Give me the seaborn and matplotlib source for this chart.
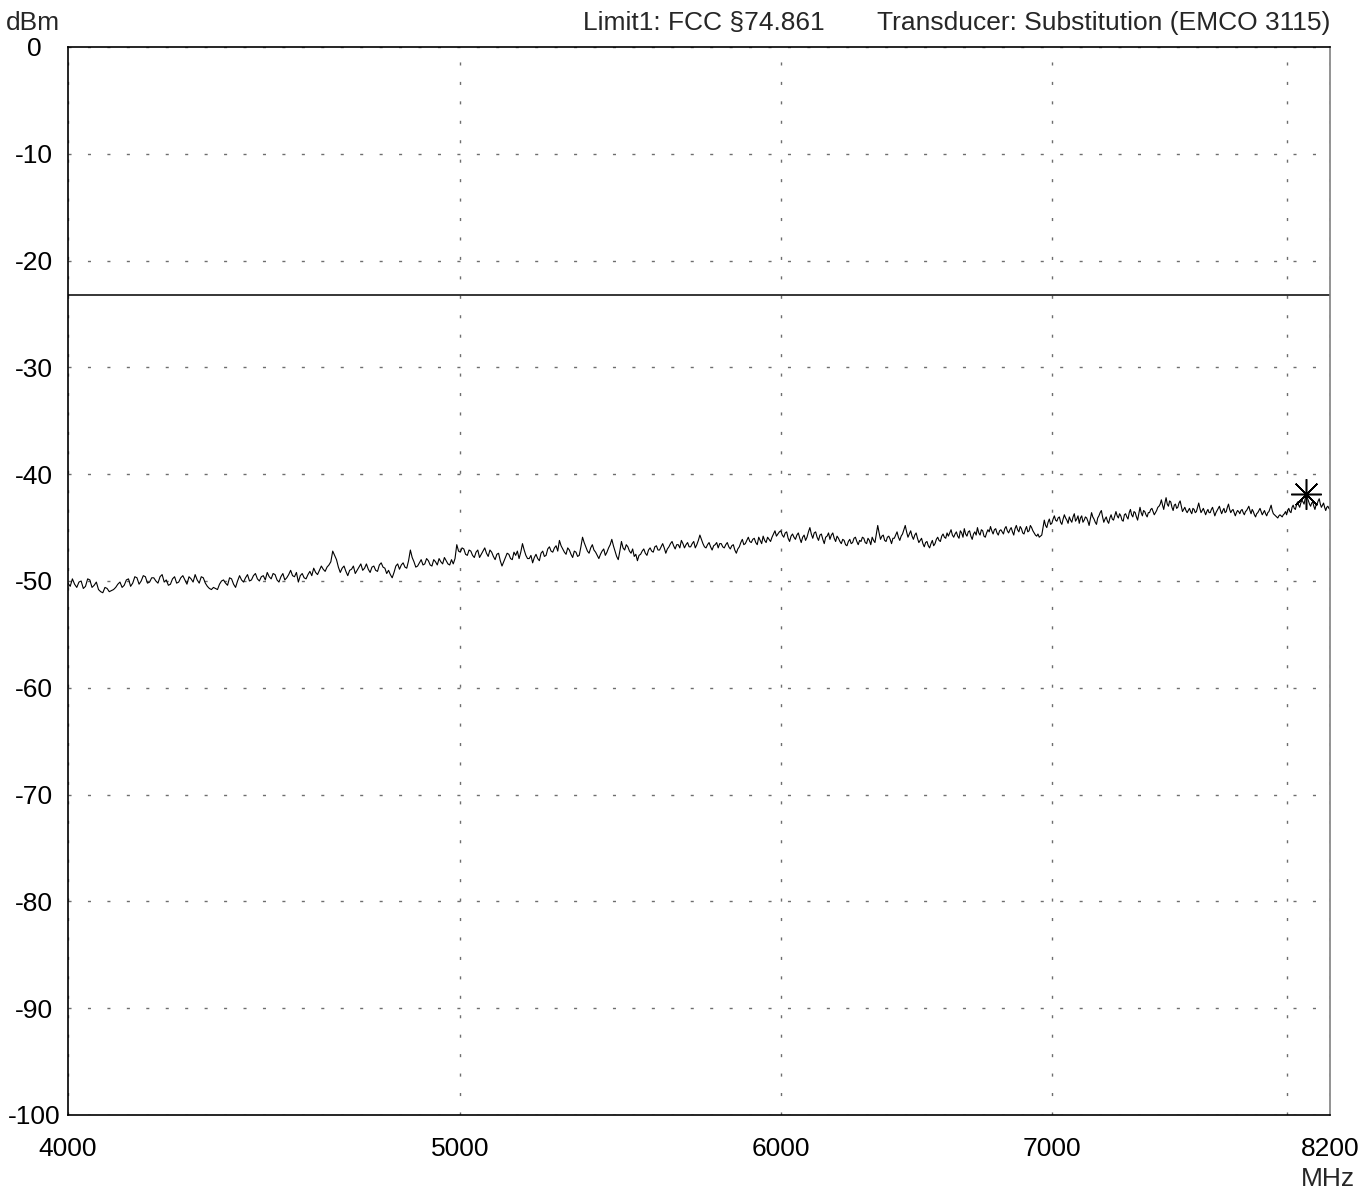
import numpy as np
import pandas as pd
import matplotlib
matplotlib.use("Agg")
import matplotlib.pyplot as plt
from matplotlib.ticker import FixedLocator, FixedFormatter, NullLocator, NullFormatter
import seaborn as sns

# Sweep settings (MHz)
FREQ_START_MHZ = 4000
FREQ_STOP_MHZ = 8200
FREQ_STEP_MHZ = 5

# Measured level per sweep point (dBm), one row per 200 MHz
level_dbm = [
    -50.2, -50.5, -49.8, -50.3, -50.6, -50.1, -50.0, -50.7, -50.5, -49.8, -49.9, -50.6, -50.4, -50.1, -50.8, -51.0, -51.1, -50.6, -50.7, -51.0,
    -50.9, -50.8, -50.6, -50.3, -50.1, -50.6, -50.4, -49.9, -49.8, -50.5, -50.2, -49.6, -49.7, -50.3, -50.0, -49.5, -49.6, -50.2, -50.1, -49.7,
    -49.7, -50.0, -50.2, -49.6, -49.4, -50.1, -49.9, -50.4, -50.3, -49.8, -49.6, -50.2, -50.1, -49.7, -49.5, -49.9, -50.3, -49.6, -49.8, -50.1,
    -49.4, -49.9, -50.2, -49.6, -49.7, -50.2, -50.5, -50.7, -50.8, -50.6, -50.7, -50.8, -50.3, -50.0, -49.9, -50.2, -50.4, -49.7, -49.8, -50.3,
    -50.6, -50.0, -49.5, -49.9, -50.1, -49.7, -49.4, -50.0, -49.9, -49.5, -49.3, -49.8, -50.0, -49.6, -49.5, -49.9, -49.2, -49.6, -49.8, -49.3,
    -49.4, -49.9, -50.1, -49.6, -49.3, -49.9, -49.7, -49.4, -49.0, -49.5, -49.6, -49.2, -50.1, -49.5, -49.3, -49.7, -49.8, -49.4, -49.1, -49.5,
    -48.8, -49.2, -49.4, -49.0, -48.6, -48.9, -49.1, -48.7, -48.5, -48.2, -47.2, -47.6, -48.0, -48.7, -49.2, -48.8, -48.6, -49.1, -49.5, -49.0,
    -48.9, -48.6, -49.3, -49.0, -48.7, -48.4, -49.0, -48.8, -48.4, -48.9, -49.2, -48.7, -48.6, -49.0, -49.1, -48.5, -48.3, -48.7, -48.8, -49.3,
    -49.0, -49.4, -49.7, -49.2, -48.6, -48.4, -48.9, -48.5, -48.3, -48.7, -48.8, -48.1, -47.1, -47.8, -48.2, -48.7, -48.6, -48.3, -48.0, -48.5,
    -48.4, -47.9, -48.1, -48.5, -48.6, -48.0, -48.2, -48.5, -47.9, -48.2, -48.4, -47.8, -48.1, -48.4, -48.5, -48.0, -48.4, -47.9, -46.6, -47.2,
    -47.3, -46.9, -47.0, -47.5, -47.6, -47.1, -47.2, -47.6, -47.8, -47.3, -47.1, -47.8, -47.5, -47.2, -46.9, -47.4, -47.7, -47.1, -47.3, -47.7,
    -48.0, -47.5, -47.4, -48.1, -48.6, -48.2, -47.8, -47.4, -47.5, -47.9, -48.0, -47.3, -47.6, -47.2, -47.9, -47.3, -46.5, -47.1, -47.6, -47.9,
    -47.9, -47.6, -48.3, -47.8, -47.5, -47.9, -48.1, -47.4, -47.2, -47.7, -47.6, -47.0, -46.8, -47.2, -47.3, -46.9, -46.7, -47.2, -46.2, -46.7,
    -47.0, -47.3, -47.5, -46.9, -47.1, -47.5, -47.8, -47.2, -47.3, -47.7, -47.6, -46.8, -45.9, -46.4, -46.8, -47.2, -47.4, -46.9, -46.6, -47.1,
    -47.3, -47.6, -47.9, -47.5, -47.2, -47.0, -47.6, -47.3, -46.9, -46.6, -46.1, -46.7, -47.2, -47.7, -48.0, -47.2, -46.3, -46.9, -47.1, -46.6,
    -46.8, -47.2, -47.4, -47.0, -47.7, -47.5, -48.1, -47.6, -47.5, -47.2, -47.0, -47.4, -47.6, -47.1, -46.9, -47.2, -47.3, -46.8, -46.7, -47.1,
    -47.1, -46.8, -46.5, -46.9, -47.4, -47.0, -46.8, -46.5, -46.3, -46.7, -47.0, -46.6, -46.6, -46.9, -46.2, -46.5, -46.9, -46.6, -46.4, -46.8,
    -46.8, -46.5, -46.3, -46.9, -46.6, -46.2, -45.7, -46.1, -46.5, -46.8, -46.9, -46.6, -46.4, -46.8, -47.1, -46.7, -46.6, -46.4, -46.9, -46.5,
    -46.5, -46.8, -46.9, -46.6, -46.4, -46.8, -47.0, -46.7, -46.6, -47.1, -47.4, -47.0, -46.8, -46.4, -46.1, -46.6, -46.5, -46.2, -45.9, -46.3,
    -46.4, -46.1, -46.0, -46.4, -46.6, -45.9, -46.2, -46.5, -45.8, -46.2, -46.4, -45.9, -46.1, -46.3, -45.9, -45.6, -45.3, -45.8, -45.6, -45.4,
    -45.3, -45.7, -45.9, -45.5, -45.4, -46.0, -46.3, -45.8, -45.6, -45.9, -46.1, -45.7, -45.5, -46.0, -46.4, -45.9, -45.7, -46.2, -45.9, -45.4,
    -45.0, -45.6, -46.0, -45.5, -45.4, -45.9, -46.2, -45.7, -45.6, -46.1, -46.5, -45.9, -45.8, -45.5, -46.1, -45.7, -45.5, -46.0, -46.3, -45.8,
    -46.0, -46.3, -46.5, -46.1, -46.2, -46.6, -46.7, -46.3, -46.1, -46.5, -46.4, -46.0, -45.9, -46.3, -46.6, -46.2, -46.3, -45.9, -46.0, -46.4,
    -46.5, -46.0, -46.2, -46.6, -45.9, -46.2, -46.4, -45.6, -44.8, -45.5, -46.1, -45.8, -45.7, -46.2, -46.3, -45.9, -45.8, -46.1, -46.5, -46.0,
    -46.0, -45.7, -45.4, -45.9, -46.2, -45.8, -45.6, -45.2, -44.8, -45.4, -45.9, -45.6, -45.3, -45.8, -46.1, -45.7, -45.5, -46.0, -46.4, -46.2,
    -46.0, -46.5, -46.8, -46.4, -46.3, -46.7, -46.9, -46.5, -46.2, -46.7, -46.5, -46.1, -45.9, -46.2, -46.3, -45.8, -45.6, -45.9, -46.0, -45.5,
    -45.8, -45.5, -45.2, -45.7, -45.9, -45.6, -45.4, -45.8, -46.0, -45.3, -45.5, -45.9, -45.1, -45.6, -45.8, -45.4, -45.3, -45.8, -46.1, -45.6,
    -45.4, -45.7, -45.0, -45.5, -45.7, -45.2, -45.3, -45.8, -45.9, -45.5, -45.2, -45.4, -44.9, -45.3, -45.6, -45.2, -45.1, -45.5, -45.7, -45.3,
    -45.2, -45.4, -45.6, -45.1, -44.9, -45.3, -45.5, -45.2, -45.0, -45.4, -45.7, -45.1, -44.8, -45.2, -45.4, -44.9, -45.1, -45.5, -45.6, -45.2,
    -44.9, -45.4, -45.3, -44.8, -45.0, -45.3, -45.5, -45.7, -45.8, -45.6, -45.9, -45.8, -45.7, -45.0, -44.3, -44.8, -45.0, -44.5, -44.2, -44.7,
    -44.6, -44.2, -43.9, -44.3, -44.4, -44.1, -44.0, -44.5, -44.7, -44.2, -43.8, -44.1, -44.3, -44.6, -44.0, -44.3, -44.5, -44.0, -43.7, -44.4,
    -44.2, -43.9, -44.6, -44.1, -43.9, -44.5, -44.3, -44.0, -44.1, -44.4, -44.8, -44.2, -43.6, -44.0, -44.2, -44.5, -44.7, -44.1, -43.9, -43.6,
    -43.4, -44.0, -44.5, -44.2, -44.0, -44.4, -44.6, -44.1, -43.8, -44.2, -44.3, -43.9, -43.5, -43.9, -44.1, -43.7, -43.9, -44.3, -44.4, -43.8,
    -43.7, -44.0, -44.2, -43.6, -43.3, -43.8, -44.0, -43.5, -43.6, -44.0, -44.3, -43.7, -43.1, -43.6, -43.9, -43.4, -43.5, -43.8, -44.0, -43.6,
    -43.6, -43.3, -43.2, -43.5, -43.8, -43.6, -43.4, -43.1, -43.0, -42.8, -42.4, -42.9, -43.3, -42.7, -42.2, -42.8, -43.0, -42.5, -42.6, -43.1,
    -43.4, -42.9, -42.8, -43.2, -43.1, -42.7, -42.5, -43.0, -43.5, -43.3, -43.1, -43.4, -43.6, -43.4, -43.2, -43.5, -43.7, -43.2, -43.3, -43.6,
    -43.5, -43.1, -42.7, -43.2, -43.6, -43.4, -43.2, -43.5, -43.8, -43.5, -43.3, -43.6, -43.6, -43.3, -43.1, -43.5, -43.9, -43.6, -43.4, -43.2,
    -43.0, -43.4, -43.7, -43.4, -43.2, -43.6, -43.5, -43.1, -42.8, -43.3, -43.6, -43.4, -43.3, -43.6, -43.9, -43.6, -43.4, -43.5, -43.7, -43.4,
    -43.3, -43.6, -43.8, -43.5, -43.4, -43.2, -43.0, -43.4, -43.7, -43.3, -43.5, -43.8, -44.0, -43.7, -43.6, -43.4, -43.2, -43.5, -43.8, -43.6,
    -43.4, -43.7, -43.9, -43.6, -43.5, -43.2, -42.9, -43.4, -43.7, -43.8, -43.9, -44.0, -44.1, -43.9, -43.8, -43.9, -44.0, -43.8, -43.7, -43.5,
    -43.8, -43.4, -43.2, -43.5, -43.6, -43.1, -42.9, -43.2, -43.3, -42.9, -42.6, -42.9, -43.1, -42.7, -42.4, -42.6, -42.8, -42.3, -41.9, -42.2,
    -42.5, -42.8, -43.0, -42.7, -42.6, -43.0, -43.3, -42.9, -42.8, -42.5, -42.3, -42.8, -43.1, -42.9, -42.7, -43.1, -43.4, -43.1, -43.0, -43.2,
    -43.3,
]

# Limit line of FCC §74.861 (dBm)
limit_dbm = -23.2

x_ticks = [4000, 5000, 6000, 7000, 8000, 8200]
x_tick_labels = ["4000", "5000", "6000", "7000", "", "8200"]
y_ticks = [0, -10, -20, -30, -40, -50, -60, -70, -80, -90, -100]
y_tick_labels = ["0", "-10", "-20", "-30", "-40", "-50", "-60", "-70", "-80", "-90", "-100"]

header_left = "Limit1: FCC §74.861"
header_right = "Transducer: Substitution (EMCO 3115)"

freq_mhz = np.arange(FREQ_START_MHZ, FREQ_STOP_MHZ + FREQ_STEP_MHZ, FREQ_STEP_MHZ)
trace = pd.DataFrame({"freq": freq_mhz, "level": level_dbm})

sns.set_style("white")
plt.rcParams["font.family"] = ["Liberation Sans", "DejaVu Sans"]
FS = 19

W, H = 1361, 1193
fig = plt.figure(figsize=(W / 100, H / 100), dpi=100)
ax = fig.add_axes([68 / W, 78 / H, 1262 / W, 1068 / H])

sns.lineplot(data=trace, x="freq", y="level", ax=ax, color="black",
             linewidth=0.8, estimator=None, sort=False, zorder=3)
ax.axhline(limit_dbm, color="black", linewidth=1.1, zorder=3)

# Peak marker on the trace maximum
peak = trace.loc[trace["level"].idxmax()]
ax.plot([peak["freq"]], [peak["level"]], linestyle="none", marker=(8, 2, 0),
        markersize=22, markeredgewidth=1.1, color="black", zorder=4)

ax.set_xscale("log")
ax.set_xlim(FREQ_START_MHZ, FREQ_STOP_MHZ)
ax.set_ylim(-100, 0)
ax.xaxis.set_major_locator(FixedLocator(x_ticks))
ax.xaxis.set_major_formatter(FixedFormatter(x_tick_labels))
ax.xaxis.set_minor_locator(NullLocator())
ax.xaxis.set_minor_formatter(NullFormatter())
ax.set_yticks(y_ticks)
ax.set_yticklabels(y_tick_labels)
ax.set_xlabel("")
ax.set_ylabel("")

ax.tick_params(axis="both", length=0, labelsize=FS, colors="black")
ax.tick_params(axis="y", pad=24.5)
ax.tick_params(axis="x", pad=16)
for lbl in ax.get_yticklabels():
    lbl.set_horizontalalignment("center")

ax.grid(True, color="#6e6e6e", linewidth=1.0, linestyle=(0, (2.2, 11.8)))
ax.set_axisbelow(True)

for side in ["left", "bottom", "top"]:
    ax.spines[side].set_color("black")
    ax.spines[side].set_linewidth(1.2)
ax.spines["right"].set_color("#808080")
ax.spines["right"].set_linewidth(1.2)
for sp in ax.spines.values():
    sp.set_zorder(5)

fig.text(33 / W, 1 - 30 / H, "dBm", ha="center", va="baseline", fontsize=FS)
fig.text(583 / W, 1 - 30 / H, header_left, ha="left", va="baseline", fontsize=FS)
fig.text(1330 / W, 1 - 30 / H, header_right, ha="right", va="baseline", fontsize=FS)
fig.text(1355 / W, 1 - 1186 / H, "MHz", ha="right", va="baseline", fontsize=FS)

fig.savefig("out.png", dpi=100)
